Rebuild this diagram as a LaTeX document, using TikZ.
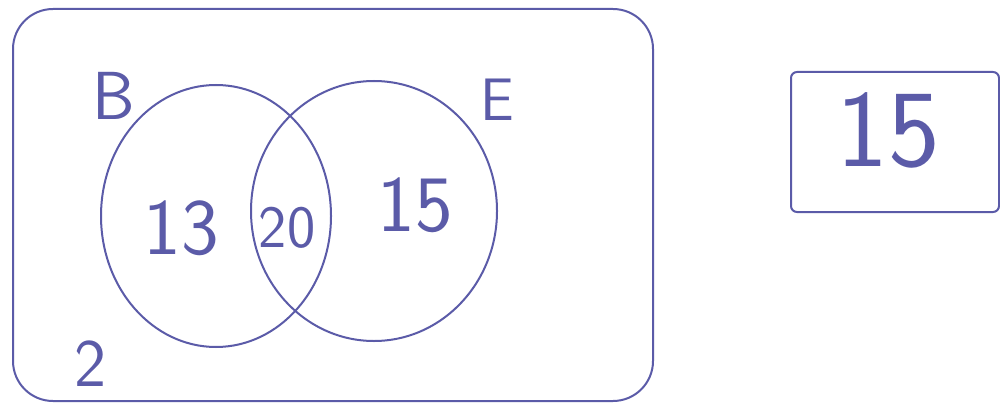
\documentclass[tikz,border=0pt]{standalone}
\usetikzlibrary{shapes.geometric}
\definecolor{pen}{HTML}{5B5BA8}
\tikzset{
  ink/.style={draw=pen, line width=2pt},
  setshape/.style={ink, ellipse, inner sep=0pt},
  lbl/.style={text=pen, font=\fontsize{80}{84}\selectfont\sffamily, inner sep=0pt},
  small/.style={text=pen, font=\fontsize{68}{72}\selectfont\sffamily, inner sep=0pt},
}
\begin{document}
\begin{tikzpicture}[x=1pt,y=-1pt]
\useasboundingbox (0,0) rectangle (1000,409);
\node[ink, rectangle, rounded corners=40pt, minimum width=640pt, minimum height=392pt] (U) at (333,205) {};
\node[setshape, minimum width=230pt, minimum height=262pt] (B) at (216,216) {};
\node[setshape, minimum width=246pt, minimum height=260pt] (E) at (374,211) {};
\node[small] (lb) at (114,96) {B};
\node[small, font=\fontsize{60}{64}\selectfont\sffamily] (le) at (497,100) {E};
\node[lbl] (n13) at (181,228) {13};
\node[small, font=\fontsize{60}{64}\selectfont\sffamily] (n20) at (287,228) {20};
\node[lbl] (n15) at (415,205) {15};
\node[small] (n2) at (90,364) {2};
\node[ink, rectangle, rounded corners=6pt, minimum width=208pt, minimum height=140pt] (R) at (895,142) {};
\node[lbl, font=\fontsize{110}{114}\selectfont\sffamily] (r15) at (888,130) {15};
\end{tikzpicture}
\end{document}
